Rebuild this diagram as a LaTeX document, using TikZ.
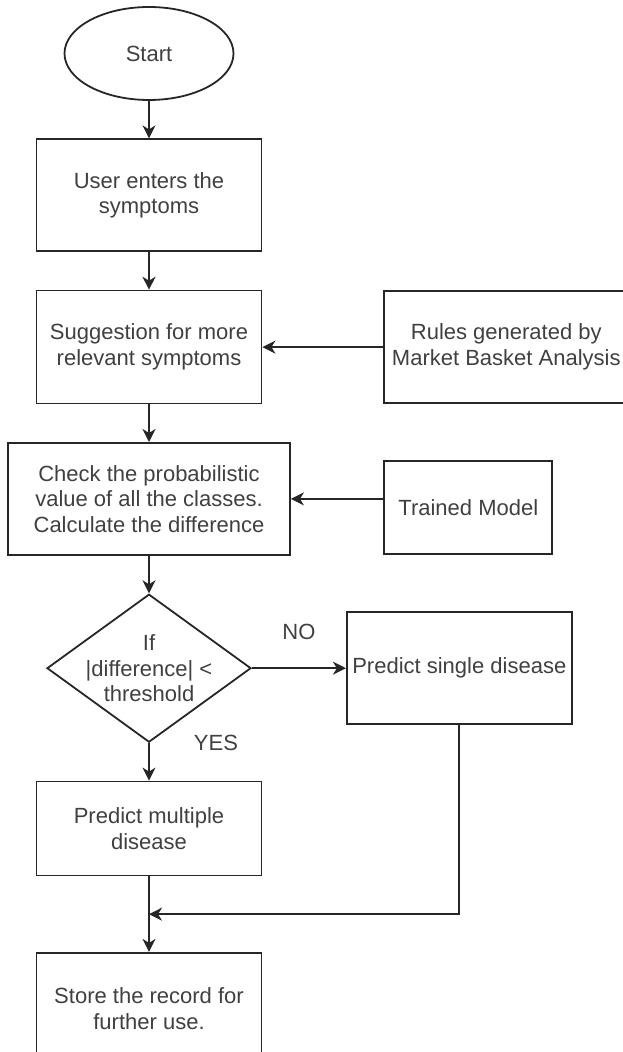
\documentclass[tikz,border=0pt]{standalone}
\usepackage{fontspec}
\setmainfont{Liberation Sans}
\usetikzlibrary{
  arrows.meta,
  shapes.geometric,
  chains,
  positioning,
  scopes
}

\begin{document}
\begin{tikzpicture}[
      process/.style={
         rectangle,
         minimum width=112.5pt,
         minimum height=56pt,
         line width=0.9pt,
         draw=black!85,
         align=center,
         inner sep=0pt,
         text=black!75,
         font={\fontsize{11}{12.8}\selectfont}
      },
      terminal/.style={
         process,
         ellipse,
         minimum width=84.5pt,
         minimum height=46.5pt
      },
      decision/.style={
         process,
         diamond,
         minimum width=102pt,
         minimum height=74pt
      },
      flowlabel/.style={inner sep=0pt,text=black!75,font={\fontsize{11}{12.8}\selectfont}},
      >={Stealth[length=6.5pt,width=6.5pt,inset=2pt]},line width=0.9pt,
      tip/.style={->,draw=black!85},
      node distance=18.75pt
    ]
    \useasboundingbox (0,0) rectangle (311pt,-526pt);
    % main column
    \node (start) [terminal] at (74.5pt,-26.75pt) {Start};
    \node (user) [process, below=of start] {User enters the\\symptoms};
    \node (suggest) [process, below=of user, minimum height=56.5pt] {Suggestion for more\\relevant symptoms};
    \node (check) [process, below=of suggest, minimum width=141pt] {Check the probabilistic\\value of all the classes.\\Calculate the difference};
    \node (decide) [decision, below=of check] {};
    \node (decide text) [flowlabel, align=center] at (decide) {If\\|difference| <\\threshold};
    \node (multiple) [process, below=of decide, minimum height=47pt] {Predict multiple\\disease};
    \node (store) [process, below=37.75pt of multiple] {Store the record for\\further use.};
    % side boxes
    \node (rules) [process, right=60.5pt of suggest, minimum width=122pt] {Rules generated by\\Market Basket Analysis};
    \node (trained) [process, below=28pt of rules.south west, anchor=north west, minimum width=84pt, minimum height=46.5pt] {Trained Model};
    \node (single) [process, right=47pt of decide] {Predict single disease};
  { [start chain]
       \chainin (start);
       \chainin (user)     [join=by tip];
       \chainin (suggest)  [join=by tip];
       \chainin (check)    [join=by tip];
       \chainin (decide)   [join=by tip];
       \chainin (multiple) [join=by tip];
       \chainin (store)    [join=by tip];
  }
    \draw[tip] (rules) -- (suggest);
    \draw[tip] (trained.west |- check.east) -- (check.east);
    \draw[tip] (decide) -- node[flowlabel, above=14pt] (no) {NO} (single);
    \node (yes) [flowlabel, right=22pt of decide.south] {YES};
    \path (multiple.south) -- coordinate[pos=0.5] (merge) (store.north);
    \draw[tip] (single.south) |- (merge);
\end{tikzpicture}
\end{document}
